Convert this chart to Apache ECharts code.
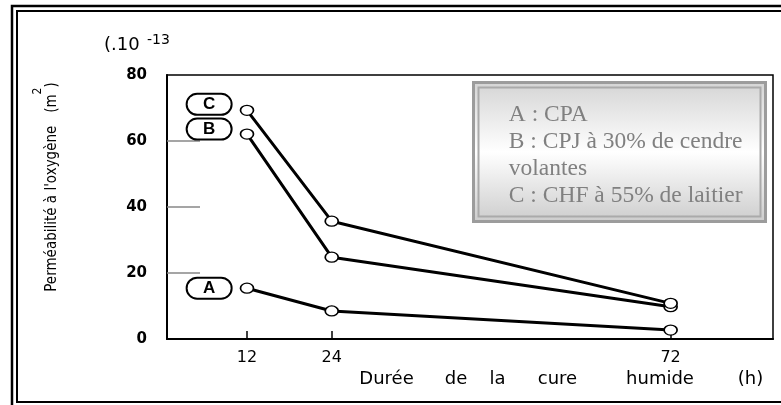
<!DOCTYPE html>
<html>
<head>
<meta charset="utf-8">
<script src="https://cdn.jsdelivr.net/npm/echarts@6/dist/echarts.min.js"></script>
<style>
  html, body { margin: 0; padding: 0; background: #fff; }
  #chart { width: 781px; height: 405px; }
</style>
</head>
<body>
<div id="chart"></div>
<script>
// Oxygen permeability (x10^-13 m²) against wet-curing duration (h)
const cureHours = [12, 24, 72];
const seriesNames = ['A', 'B', 'C'];
const permA = [15.4, 8.5, 2.7];
const permB = [62.1, 24.8, 9.8];
const permC = [69.3, 35.7, 10.8];
const yTickValues = [20, 40, 60];
const legendText = {
  A: 'A : CPA',
  B: 'B : CPJ à 30% de cendre\nvolantes',
  C: 'C : CHF à 55% de laitier'
};
const xTitleWords = ['Durée', 'de', 'la', 'cure', 'humide', '(h)'];
const yTitle = "Perméabilité à l'oxygène";
const unitBase = '(.10';
const unitExp = '-13';

const sansWide = "'DejaVu Sans', Arial, sans-serif";
const sansNarrow = "'Liberation Sans Narrow', 'DejaVu Sans Condensed', 'Arial Narrow', Arial, sans-serif";
const serif = "'Liberation Serif', 'Times New Roman', serif";

// word slots for the spaced-out x axis title
const xWordSlots = [95, 44, 39, 81, 124, 57];
const xTitleRich = {};
xTitleWords.forEach((w, i) => {
  xTitleRich['w' + i] = { width: xWordSlots[i], align: 'center', fontSize: 18, lineHeight: 20, fontFamily: sansWide, color: '#000' };
});
const xTitle = xTitleWords.map((w, i) => '{w' + i + '|' + w + '}').join('');

// circled letter tags next to the first point of each curve
const tagShift = { A: [0, 0], B: [0, -5], C: [0, -6] };

function curve(name, values) {
  return {
    name: name,
    type: 'line',
    data: values.map((v, i) => {
      const item = { value: [cureHours[i], v] };
      if (i === 0) {
        item.label = {
          show: true,
          position: 'left',
          distance: 9,
          offset: tagShift[name],
          formatter: '{l|' + name + '}',
          backgroundColor: '#fff',
          borderColor: '#000',
          borderWidth: 2,
          borderRadius: 11,
          padding: [1, 0],
          rich: { l: { width: 43, align: 'center', fontSize: 17, fontWeight: 'bold', fontFamily: 'Arial, sans-serif', color: '#000', lineHeight: 17 } }
        };
      }
      return item;
    }),
    symbol: 'circle',
    symbolSize: [13, 10],
    itemStyle: { color: '#fff', borderColor: '#000', borderWidth: 1.5 },
    lineStyle: { color: '#000', width: 3 },
    emphasis: { disabled: true },
    z: 3
  };
}

const chart = echarts.init(document.getElementById('chart'));
chart.setOption({
  animation: false,
  backgroundColor: '#fff',
  title: {
    text: '{a|' + unitBase + '}{b|' + unitExp + '}',
    left: 104,
    top: 33,
    padding: 0,
    textStyle: {
      fontWeight: 'normal',
      rich: {
        a: { fontSize: 18, lineHeight: 24, width: 43, fontWeight: 'normal', fontFamily: sansWide, color: '#000' },
        b: { fontSize: 14, lineHeight: 14, verticalAlign: 'top', fontWeight: 'normal', fontFamily: sansWide, color: '#000' }
      }
    }
  },
  legend: {
    data: seriesNames,
    orient: 'vertical',
    left: 492,
    top: 101.5,
    padding: 0,
    itemGap: 0,
    itemWidth: 0,
    itemHeight: 27,
    selectedMode: false,
    z: 10,
    itemStyle: { opacity: 0 },
    lineStyle: { opacity: 0 },
    formatter: (n) => legendText[n],
    textStyle: { color: '#808080', fontSize: 23.5, lineHeight: 27, fontFamily: serif }
  },
  grid: {
    left: 167, right: 8, top: 75, bottom: 66,
    show: true, borderColor: '#000', borderWidth: 1.5,
    outerBoundsMode: 'none'
  },
  xAxis: {
    type: 'value',
    min: 0.67,
    max: 86.5,
    axisLine: { lineStyle: { color: '#000', width: 2 } },
    axisTick: { inside: true, length: 8, customValues: cureHours, lineStyle: { color: '#000', width: 1.5 } },
    axisLabel: { customValues: cureHours, margin: 11, color: '#000', fontSize: 16, fontFamily: sansWide },
    splitLine: { show: false },
    name: xTitle,
    nameLocation: 'end',
    nameGap: 6,
    nameMoveOverlap: false,
    nameTextStyle: { align: 'right', verticalAlign: 'top', padding: [30, 0, 0, 0], rich: xTitleRich }
  },
  yAxis: {
    type: 'value',
    min: 0,
    max: 80,
    interval: 20,
    axisLine: { show: true, lineStyle: { color: '#000', width: 2 } },
    axisTick: { show: true, inside: true, length: 33, customValues: yTickValues, lineStyle: { color: '#888', width: 1.5 } },
    axisLabel: { margin: 20, color: '#000', fontSize: 15, fontWeight: 'bold', fontFamily: sansWide },
    splitLine: { show: false },
    name: '{t|' + yTitle + '   (m}{s|2}{t|)}',
    nameLocation: 'middle',
    nameGap: 95,
    nameMoveOverlap: false,
    nameTextStyle: {
      padding: [0, 0, 0, 40],
      rich: {
        t: { fontSize: 15, lineHeight: 40, fontFamily: sansNarrow, color: '#000' },
        s: { fontSize: 12, lineHeight: 12, verticalAlign: 'top', fontFamily: sansNarrow, color: '#000' }
      }
    }
  },
  graphic: [
    // double frame around the figure
    { type: 'rect', silent: true, z: 20, shape: { x: 12, y: 6, width: 800, height: 420 },
      style: { fill: 'rgba(0,0,0,0)', stroke: '#000', lineWidth: 2.5 } },
    { type: 'rect', silent: true, z: 20, shape: { x: 17, y: 11, width: 800, height: 391 },
      style: { fill: 'rgba(0,0,0,0)', stroke: '#000', lineWidth: 2 } },
    // key box
    { type: 'rect', silent: true, z: 5, shape: { x: 473.5, y: 82.5, width: 292, height: 139 },
      style: {
        fill: new echarts.graphic.LinearGradient(0, 0, 0, 1, [
          { offset: 0, color: '#d4d4d4' },
          { offset: 0.5, color: '#ffffff' },
          { offset: 1, color: '#cccccc' }
        ]),
        stroke: '#9c9c9c', lineWidth: 3
      } },
    { type: 'rect', silent: true, z: 5, shape: { x: 478.5, y: 87.5, width: 282, height: 129 },
      style: { fill: 'rgba(0,0,0,0)', stroke: '#aaaaaa', lineWidth: 2 } }
  ],
  series: [curve('A', permA), curve('B', permB), curve('C', permC)]
});
</script>
</body>
</html>
